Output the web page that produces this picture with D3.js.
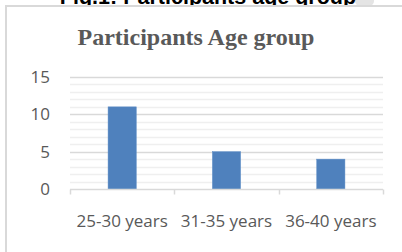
<!DOCTYPE html>
<html><head><meta charset="utf-8">
<script src="https://cdn.jsdelivr.net/npm/d3@7"></script>
<style>html,body{margin:0;padding:0;background:#fff;overflow:hidden}</style>
</head><body>
<svg id="c" width="402" height="252"></svg>
<script>
const categories = ["25-30 years", "31-35 years", "36-40 years"];
const values = [11, 5, 4];
const yTicks = [0, 5, 10, 15];
const minorTicks = d3.range(0, 16, 1);

const svg = d3.select("#c");
const W = 402, H = 252;
const m = {left: 70, right: 19, top: 77, bottom: 63};

// cropped caption above (partly hidden behind the chart frame)
svg.append("rect").attr("x", 355).attr("y", -6).attr("width", 19).attr("height", 12).attr("rx", 5)
  .attr("fill", "#e4e4e4");
svg.append("text").attr("x", 208).attr("y", 4).attr("text-anchor", "middle")
  .attr("font-family", "Liberation Sans, Arial, sans-serif").attr("font-weight", "bold")
  .attr("font-size", 21.5).attr("fill", "#000").text("Fig.1: Participants age group");

// outer box (chart area frame)
svg.append("rect").attr("x", 6).attr("y", 6).attr("width", 420).attr("height", 280)
  .attr("fill", "#fff").attr("stroke", "#d9d9d9").attr("stroke-width", 2);

// title
svg.append("text").attr("x", 196).attr("y", 45).attr("text-anchor", "middle")
  .attr("font-family", "Liberation Serif, Times New Roman, serif").attr("font-weight", "bold")
  .attr("font-size", 24).attr("fill", "#595959").text("Participants Age group");

const x = d3.scaleBand().domain(categories).range([m.left, W - m.right]).paddingInner(0.73).paddingOuter(0.365);
const xb = d3.scaleBand().domain(categories).range([m.left, W - m.right]);
const y = d3.scaleLinear().domain([0, 15]).range([H - m.bottom, m.top]);

// minor gridlines
svg.append("g").selectAll("line").data(minorTicks.filter(d => d % 5 !== 0)).join("line")
  .attr("x1", m.left).attr("x2", W - m.right)
  .attr("y1", d => Math.round(y(d)) + 0.5).attr("y2", d => Math.round(y(d)) + 0.5)
  .attr("stroke", "#efefef").attr("stroke-width", 1.5);
// major gridlines
svg.append("g").selectAll("line").data(yTicks.filter(d => d > 0)).join("line")
  .attr("x1", m.left).attr("x2", W - m.right)
  .attr("y1", d => Math.round(y(d)) + 0.5).attr("y2", d => Math.round(y(d)) + 0.5)
  .attr("stroke", "#d9d9d9").attr("stroke-width", 1.5);

// bars
svg.append("g").selectAll("rect").data(values).join("rect")
  .attr("x", (d, i) => x(categories[i])).attr("width", x.bandwidth())
  .attr("y", d => y(d)).attr("height", d => y(0) - y(d))
  .attr("fill", "#4f81bd").attr("stroke", "#5b8cc6").attr("stroke-width", 0.5);

// x axis line and ticks
const xAxisY = Math.round(y(0)) + 0.5;
svg.append("line").attr("x1", m.left).attr("x2", W - m.right).attr("y1", xAxisY).attr("y2", xAxisY)
  .attr("stroke", "#d9d9d9").attr("stroke-width", 1.5);
const bounds = categories.map(c => xb(c)).concat([W - m.right]);
svg.append("g").selectAll("line").data(bounds).join("line")
  .attr("x1", d => Math.round(d) + 0.5).attr("x2", d => Math.round(d) + 0.5)
  .attr("y1", xAxisY).attr("y2", xAxisY + 5)
  .attr("stroke", "#d9d9d9").attr("stroke-width", 1.5);

// y tick labels
svg.append("g").selectAll("text").data(yTicks).join("text")
  .attr("x", 50).attr("y", d => y(d)).attr("dy", "0.35em").attr("text-anchor", "end")
  .attr("font-family", "Open Sans, sans-serif").attr("font-size", 17).attr("fill", "#595959")
  .text(d => d);

// x labels
svg.append("g").selectAll("text").data(categories).join("text")
  .attr("x", d => xb(d) + xb.bandwidth() / 2).attr("y", 227).attr("text-anchor", "middle")
  .attr("font-family", "Open Sans, sans-serif").attr("font-size", 17).attr("fill", "#595959")
  .text(d => d);
</script>
</body></html>
